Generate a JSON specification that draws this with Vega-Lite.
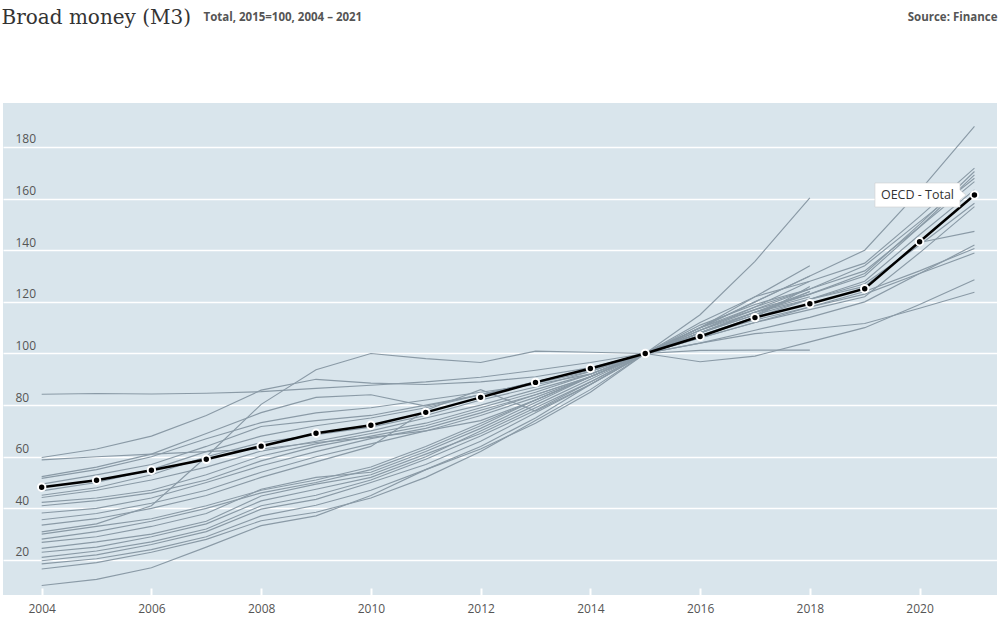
{
"$schema": "https://vega.github.io/schema/vega-lite/v6.json",
"width": 994, "height": 492,
"autosize": {"type": "none"},
"padding": {"left": 3, "top": 103, "right": 9, "bottom": 28},
"background": "white",
"config": {"view": {"fill": "#d9e5ec", "stroke": null}, "font": "Open Sans"},
"datasets": {
"countries": [
{"country":"C01","year":2004,"value":84.2},{"country":"C01","year":2005,"value":84.5},{"country":"C01","year":2006,"value":84.3},{"country":"C01","year":2007,"value":84.6},{"country":"C01","year":2008,"value":85.2},{"country":"C01","year":2009,"value":86.5},{"country":"C01","year":2010,"value":87.7},{"country":"C01","year":2011,"value":89.0},{"country":"C01","year":2012,"value":90.8},{"country":"C01","year":2013,"value":93.5},{"country":"C01","year":2014,"value":96.5},{"country":"C01","year":2015,"value":100},{"country":"C01","year":2016,"value":104.0},{"country":"C01","year":2017,"value":107.7},{"country":"C01","year":2018,"value":109.5},{"country":"C01","year":2019,"value":111.6},{"country":"C01","year":2020,"value":117.5},{"country":"C01","year":2021,"value":123.7},
{"country":"C02","year":2004,"value":30.9},{"country":"C02","year":2005,"value":34.0},{"country":"C02","year":2006,"value":41.0},{"country":"C02","year":2007,"value":60.0},{"country":"C02","year":2008,"value":80.3},{"country":"C02","year":2009,"value":93.7},{"country":"C02","year":2010,"value":100.0},{"country":"C02","year":2011,"value":98.0},{"country":"C02","year":2012,"value":96.5},{"country":"C02","year":2013,"value":100.9},{"country":"C02","year":2014,"value":100.5},{"country":"C02","year":2015,"value":100},{"country":"C02","year":2016,"value":96.8},{"country":"C02","year":2017,"value":99.0},{"country":"C02","year":2018,"value":104.5},{"country":"C02","year":2019,"value":110.0},{"country":"C02","year":2020,"value":119.0},{"country":"C02","year":2021,"value":128.6},
{"country":"C03","year":2004,"value":59.7},{"country":"C03","year":2005,"value":63.0},{"country":"C03","year":2006,"value":68.0},{"country":"C03","year":2007,"value":76.0},{"country":"C03","year":2008,"value":85.8},{"country":"C03","year":2009,"value":90.0},{"country":"C03","year":2010,"value":88.5},{"country":"C03","year":2011,"value":88.0},{"country":"C03","year":2012,"value":89.0},{"country":"C03","year":2013,"value":91.0},{"country":"C03","year":2014,"value":94.5},{"country":"C03","year":2015,"value":100},{"country":"C03","year":2016,"value":104.0},{"country":"C03","year":2017,"value":109.0},{"country":"C03","year":2018,"value":114.0},{"country":"C03","year":2019,"value":120.0},{"country":"C03","year":2020,"value":131.0},{"country":"C03","year":2021,"value":142.0},
{"country":"C04","year":2004,"value":58.8},{"country":"C04","year":2005,"value":60.0},{"country":"C04","year":2006,"value":61.0},{"country":"C04","year":2007,"value":62.0},{"country":"C04","year":2008,"value":63.0},{"country":"C04","year":2009,"value":65.5},{"country":"C04","year":2010,"value":67.5},{"country":"C04","year":2011,"value":70.0},{"country":"C04","year":2012,"value":74.0},{"country":"C04","year":2013,"value":82.0},{"country":"C04","year":2014,"value":91.0},{"country":"C04","year":2015,"value":100},{"country":"C04","year":2016,"value":101.2},{"country":"C04","year":2017,"value":101.3},{"country":"C04","year":2018,"value":101.3},
{"country":"C05","year":2004,"value":52.3},{"country":"C05","year":2005,"value":56.0},{"country":"C05","year":2006,"value":61.0},{"country":"C05","year":2007,"value":69.0},{"country":"C05","year":2008,"value":77.1},{"country":"C05","year":2009,"value":83.0},{"country":"C05","year":2010,"value":84.0},{"country":"C05","year":2011,"value":79.6},{"country":"C05","year":2012,"value":84.0},{"country":"C05","year":2013,"value":88.5},{"country":"C05","year":2014,"value":93.0},{"country":"C05","year":2015,"value":100},{"country":"C05","year":2016,"value":108.0},{"country":"C05","year":2017,"value":116.0},{"country":"C05","year":2018,"value":124.0},
{"country":"C06","year":2004,"value":51.6},{"country":"C06","year":2005,"value":55.0},{"country":"C06","year":2006,"value":60.0},{"country":"C06","year":2007,"value":67.0},{"country":"C06","year":2008,"value":73.2},{"country":"C06","year":2009,"value":77.0},{"country":"C06","year":2010,"value":79.0},{"country":"C06","year":2011,"value":82.0},{"country":"C06","year":2012,"value":85.0},{"country":"C06","year":2013,"value":88.0},{"country":"C06","year":2014,"value":92.0},{"country":"C06","year":2015,"value":100},{"country":"C06","year":2016,"value":110.0},{"country":"C06","year":2017,"value":118.0},{"country":"C06","year":2018,"value":125.0},{"country":"C06","year":2019,"value":134.0},{"country":"C06","year":2020,"value":151.0},{"country":"C06","year":2021,"value":167.9},
{"country":"C07","year":2004,"value":49.4},{"country":"C07","year":2005,"value":53.0},{"country":"C07","year":2006,"value":57.0},{"country":"C07","year":2007,"value":64.0},{"country":"C07","year":2008,"value":71.7},{"country":"C07","year":2009,"value":74.0},{"country":"C07","year":2010,"value":76.0},{"country":"C07","year":2011,"value":80.0},{"country":"C07","year":2012,"value":84.0},{"country":"C07","year":2013,"value":89.0},{"country":"C07","year":2014,"value":93.5},{"country":"C07","year":2015,"value":100},{"country":"C07","year":2016,"value":110.0},{"country":"C07","year":2017,"value":122.0},{"country":"C07","year":2018,"value":134.0},
{"country":"C08","year":2004,"value":46.8},{"country":"C08","year":2005,"value":50.0},{"country":"C08","year":2006,"value":55.0},{"country":"C08","year":2007,"value":62.0},{"country":"C08","year":2008,"value":68.0},{"country":"C08","year":2009,"value":72.0},{"country":"C08","year":2010,"value":75.0},{"country":"C08","year":2011,"value":79.0},{"country":"C08","year":2012,"value":84.0},{"country":"C08","year":2013,"value":89.0},{"country":"C08","year":2014,"value":94.0},{"country":"C08","year":2015,"value":100},{"country":"C08","year":2016,"value":107.0},{"country":"C08","year":2017,"value":114.0},{"country":"C08","year":2018,"value":121.0},{"country":"C08","year":2019,"value":128.0},{"country":"C08","year":2020,"value":146.0},{"country":"C08","year":2021,"value":163.4},
{"country":"C09","year":2004,"value":45.1},{"country":"C09","year":2005,"value":48.0},{"country":"C09","year":2006,"value":53.0},{"country":"C09","year":2007,"value":60.0},{"country":"C09","year":2008,"value":65.5},{"country":"C09","year":2009,"value":68.5},{"country":"C09","year":2010,"value":71.5},{"country":"C09","year":2011,"value":76.0},{"country":"C09","year":2012,"value":82.0},{"country":"C09","year":2013,"value":87.0},{"country":"C09","year":2014,"value":93.0},{"country":"C09","year":2015,"value":100},{"country":"C09","year":2016,"value":108.0},{"country":"C09","year":2017,"value":116.0},{"country":"C09","year":2018,"value":123.0},{"country":"C09","year":2019,"value":130.0},{"country":"C09","year":2020,"value":149.0},{"country":"C09","year":2021,"value":169.2},
{"country":"C10","year":2004,"value":44.2},{"country":"C10","year":2005,"value":47.0},{"country":"C10","year":2006,"value":51.0},{"country":"C10","year":2007,"value":56.0},{"country":"C10","year":2008,"value":62.2},{"country":"C10","year":2009,"value":66.0},{"country":"C10","year":2010,"value":70.0},{"country":"C10","year":2011,"value":75.0},{"country":"C10","year":2012,"value":80.0},{"country":"C10","year":2013,"value":86.0},{"country":"C10","year":2014,"value":92.0},{"country":"C10","year":2015,"value":100},{"country":"C10","year":2016,"value":109.0},{"country":"C10","year":2017,"value":117.0},{"country":"C10","year":2018,"value":125.0},
{"country":"C11","year":2004,"value":42.3},{"country":"C11","year":2005,"value":44.0},{"country":"C11","year":2006,"value":47.0},{"country":"C11","year":2007,"value":53.0},{"country":"C11","year":2008,"value":60.3},{"country":"C11","year":2009,"value":65.0},{"country":"C11","year":2010,"value":69.0},{"country":"C11","year":2011,"value":73.0},{"country":"C11","year":2012,"value":79.0},{"country":"C11","year":2013,"value":85.0},{"country":"C11","year":2014,"value":92.0},{"country":"C11","year":2015,"value":100},{"country":"C11","year":2016,"value":115.0},{"country":"C11","year":2017,"value":135.7},{"country":"C11","year":2018,"value":160.3},
{"country":"C12","year":2004,"value":41.0},{"country":"C12","year":2005,"value":43.0},{"country":"C12","year":2006,"value":46.0},{"country":"C12","year":2007,"value":51.0},{"country":"C12","year":2008,"value":58.4},{"country":"C12","year":2009,"value":64.0},{"country":"C12","year":2010,"value":68.0},{"country":"C12","year":2011,"value":72.0},{"country":"C12","year":2012,"value":78.0},{"country":"C12","year":2013,"value":84.0},{"country":"C12","year":2014,"value":91.0},{"country":"C12","year":2015,"value":100},{"country":"C12","year":2016,"value":108.0},{"country":"C12","year":2017,"value":115.0},{"country":"C12","year":2018,"value":121.0},{"country":"C12","year":2019,"value":127.0},{"country":"C12","year":2020,"value":142.0},{"country":"C12","year":2021,"value":158.2},
{"country":"C13","year":2004,"value":38.2},{"country":"C13","year":2005,"value":40.0},{"country":"C13","year":2006,"value":44.0},{"country":"C13","year":2007,"value":50.0},{"country":"C13","year":2008,"value":56.5},{"country":"C13","year":2009,"value":62.0},{"country":"C13","year":2010,"value":67.0},{"country":"C13","year":2011,"value":71.0},{"country":"C13","year":2012,"value":77.0},{"country":"C13","year":2013,"value":84.0},{"country":"C13","year":2014,"value":91.0},{"country":"C13","year":2015,"value":100},{"country":"C13","year":2016,"value":110.0},{"country":"C13","year":2017,"value":120.0},{"country":"C13","year":2018,"value":130.0},{"country":"C13","year":2019,"value":140.0},{"country":"C13","year":2020,"value":163.0},{"country":"C13","year":2021,"value":188.0},
{"country":"C14","year":2004,"value":35.6},{"country":"C14","year":2005,"value":38.0},{"country":"C14","year":2006,"value":42.0},{"country":"C14","year":2007,"value":47.0},{"country":"C14","year":2008,"value":54.0},{"country":"C14","year":2009,"value":60.0},{"country":"C14","year":2010,"value":65.0},{"country":"C14","year":2011,"value":70.0},{"country":"C14","year":2012,"value":76.0},{"country":"C14","year":2013,"value":83.0},{"country":"C14","year":2014,"value":91.0},{"country":"C14","year":2015,"value":100},{"country":"C14","year":2016,"value":107.0},{"country":"C14","year":2017,"value":114.0},{"country":"C14","year":2018,"value":126.0},
{"country":"C15","year":2004,"value":33.5},{"country":"C15","year":2005,"value":36.0},{"country":"C15","year":2006,"value":40.0},{"country":"C15","year":2007,"value":45.0},{"country":"C15","year":2008,"value":52.0},{"country":"C15","year":2009,"value":58.0},{"country":"C15","year":2010,"value":64.0},{"country":"C15","year":2011,"value":78.0},{"country":"C15","year":2012,"value":86.0},{"country":"C15","year":2013,"value":77.7},{"country":"C15","year":2014,"value":88.0},{"country":"C15","year":2015,"value":100},{"country":"C15","year":2016,"value":106.0},{"country":"C15","year":2017,"value":112.0},{"country":"C15","year":2018,"value":118.0},{"country":"C15","year":2019,"value":124.0},{"country":"C15","year":2020,"value":132.0},{"country":"C15","year":2021,"value":140.7},
{"country":"C16","year":2004,"value":10.1},{"country":"C16","year":2005,"value":12.5},{"country":"C16","year":2006,"value":17.0},{"country":"C16","year":2007,"value":25.0},{"country":"C16","year":2008,"value":33.3},{"country":"C16","year":2009,"value":37.1},{"country":"C16","year":2010,"value":45.0},{"country":"C16","year":2011,"value":55.0},{"country":"C16","year":2012,"value":63.0},{"country":"C16","year":2013,"value":73.0},{"country":"C16","year":2014,"value":85.0},{"country":"C16","year":2015,"value":100},{"country":"C16","year":2016,"value":112.0},{"country":"C16","year":2017,"value":122.0},{"country":"C16","year":2018,"value":128.0},{"country":"C16","year":2019,"value":135.0},{"country":"C16","year":2020,"value":153.0},{"country":"C16","year":2021,"value":171.8},
{"country":"C17","year":2004,"value":16.5},{"country":"C17","year":2005,"value":19.0},{"country":"C17","year":2006,"value":23.0},{"country":"C17","year":2007,"value":28.0},{"country":"C17","year":2008,"value":35.2},{"country":"C17","year":2009,"value":38.5},{"country":"C17","year":2010,"value":44.0},{"country":"C17","year":2011,"value":52.0},{"country":"C17","year":2012,"value":62.0},{"country":"C17","year":2013,"value":74.0},{"country":"C17","year":2014,"value":86.0},{"country":"C17","year":2015,"value":100},{"country":"C17","year":2016,"value":111.0},{"country":"C17","year":2017,"value":119.0},{"country":"C17","year":2018,"value":125.0},{"country":"C17","year":2019,"value":132.0},{"country":"C17","year":2020,"value":149.0},{"country":"C17","year":2021,"value":166.6},
{"country":"C18","year":2004,"value":18.5},{"country":"C18","year":2005,"value":20.5},{"country":"C18","year":2006,"value":24.0},{"country":"C18","year":2007,"value":29.0},{"country":"C18","year":2008,"value":37.1},{"country":"C18","year":2009,"value":41.2},{"country":"C18","year":2010,"value":47.0},{"country":"C18","year":2011,"value":55.0},{"country":"C18","year":2012,"value":64.0},{"country":"C18","year":2013,"value":75.0},{"country":"C18","year":2014,"value":88.0},{"country":"C18","year":2015,"value":100},{"country":"C18","year":2016,"value":108.0},{"country":"C18","year":2017,"value":116.0},{"country":"C18","year":2018,"value":121.0},{"country":"C18","year":2019,"value":126.0},{"country":"C18","year":2020,"value":143.0},{"country":"C18","year":2021,"value":147.3},
{"country":"C19","year":2004,"value":19.7},{"country":"C19","year":2005,"value":22.0},{"country":"C19","year":2006,"value":26.0},{"country":"C19","year":2007,"value":31.0},{"country":"C19","year":2008,"value":39.7},{"country":"C19","year":2009,"value":43.5},{"country":"C19","year":2010,"value":50.0},{"country":"C19","year":2011,"value":57.0},{"country":"C19","year":2012,"value":66.0},{"country":"C19","year":2013,"value":77.0},{"country":"C19","year":2014,"value":88.0},{"country":"C19","year":2015,"value":100},{"country":"C19","year":2016,"value":110.0},{"country":"C19","year":2017,"value":117.0},{"country":"C19","year":2018,"value":123.0},{"country":"C19","year":2019,"value":131.0},{"country":"C19","year":2020,"value":150.0},{"country":"C19","year":2021,"value":170.5},
{"country":"C20","year":2004,"value":21.0},{"country":"C20","year":2005,"value":23.5},{"country":"C20","year":2006,"value":27.0},{"country":"C20","year":2007,"value":32.0},{"country":"C20","year":2008,"value":41.0},{"country":"C20","year":2009,"value":45.1},{"country":"C20","year":2010,"value":51.0},{"country":"C20","year":2011,"value":59.0},{"country":"C20","year":2012,"value":68.0},{"country":"C20","year":2013,"value":78.0},{"country":"C20","year":2014,"value":89.0},{"country":"C20","year":2015,"value":100},{"country":"C20","year":2016,"value":107.0},{"country":"C20","year":2017,"value":113.0},{"country":"C20","year":2018,"value":118.0},{"country":"C20","year":2019,"value":123.0},{"country":"C20","year":2020,"value":131.0},{"country":"C20","year":2021,"value":138.9},
{"country":"C21","year":2004,"value":23.0},{"country":"C21","year":2005,"value":25.0},{"country":"C21","year":2006,"value":29.0},{"country":"C21","year":2007,"value":34.0},{"country":"C21","year":2008,"value":42.9},{"country":"C21","year":2009,"value":47.4},{"country":"C21","year":2010,"value":52.0},{"country":"C21","year":2011,"value":60.0},{"country":"C21","year":2012,"value":70.0},{"country":"C21","year":2013,"value":80.0},{"country":"C21","year":2014,"value":90.0},{"country":"C21","year":2015,"value":100},{"country":"C21","year":2016,"value":106.0},{"country":"C21","year":2017,"value":112.0},{"country":"C21","year":2018,"value":117.0},{"country":"C21","year":2019,"value":122.0},{"country":"C21","year":2020,"value":139.0},{"country":"C21","year":2021,"value":156.9},
{"country":"C22","year":2004,"value":24.5},{"country":"C22","year":2005,"value":27.0},{"country":"C22","year":2006,"value":30.0},{"country":"C22","year":2007,"value":35.0},{"country":"C22","year":2008,"value":44.8},{"country":"C22","year":2009,"value":49.4},{"country":"C22","year":2010,"value":53.0},{"country":"C22","year":2011,"value":61.0},{"country":"C22","year":2012,"value":69.0},{"country":"C22","year":2013,"value":79.0},{"country":"C22","year":2014,"value":89.0},{"country":"C22","year":2015,"value":100},{"country":"C22","year":2016,"value":109.0},{"country":"C22","year":2017,"value":116.0},{"country":"C22","year":2018,"value":122.0},
{"country":"C23","year":2004,"value":26.8},{"country":"C23","year":2005,"value":29.0},{"country":"C23","year":2006,"value":33.0},{"country":"C23","year":2007,"value":38.0},{"country":"C23","year":2008,"value":47.4},{"country":"C23","year":2009,"value":52.0},{"country":"C23","year":2010,"value":54.0},{"country":"C23","year":2011,"value":62.0},{"country":"C23","year":2012,"value":71.0},{"country":"C23","year":2013,"value":81.0},{"country":"C23","year":2014,"value":91.0},{"country":"C23","year":2015,"value":100},{"country":"C23","year":2016,"value":108.0},{"country":"C23","year":2017,"value":115.0},{"country":"C23","year":2018,"value":124.0},
{"country":"C24","year":2004,"value":28.1},{"country":"C24","year":2005,"value":31.0},{"country":"C24","year":2006,"value":35.0},{"country":"C24","year":2007,"value":40.0},{"country":"C24","year":2008,"value":46.0},{"country":"C24","year":2009,"value":50.0},{"country":"C24","year":2010,"value":55.0},{"country":"C24","year":2011,"value":63.0},{"country":"C24","year":2012,"value":72.0},{"country":"C24","year":2013,"value":82.0},{"country":"C24","year":2014,"value":91.0},{"country":"C24","year":2015,"value":100},{"country":"C24","year":2016,"value":110.0},{"country":"C24","year":2017,"value":120.0},{"country":"C24","year":2018,"value":130.0},
{"country":"C25","year":2004,"value":30.0},{"country":"C25","year":2005,"value":33.0},{"country":"C25","year":2006,"value":36.0},{"country":"C25","year":2007,"value":41.0},{"country":"C25","year":2008,"value":47.0},{"country":"C25","year":2009,"value":51.0},{"country":"C25","year":2010,"value":56.0},{"country":"C25","year":2011,"value":64.0},{"country":"C25","year":2012,"value":73.0},{"country":"C25","year":2013,"value":82.0},{"country":"C25","year":2014,"value":91.0},{"country":"C25","year":2015,"value":100},{"country":"C25","year":2016,"value":109.0},{"country":"C25","year":2017,"value":118.0},{"country":"C25","year":2018,"value":128.0}
],
"oecd": [
{"series":"OECD - Total","year":2004,"value":48.2},{"series":"OECD - Total","year":2005,"value":50.9},{"series":"OECD - Total","year":2006,"value":54.8},{"series":"OECD - Total","year":2007,"value":59.0},{"series":"OECD - Total","year":2008,"value":64.1},{"series":"OECD - Total","year":2009,"value":69.1},{"series":"OECD - Total","year":2010,"value":72.2},{"series":"OECD - Total","year":2011,"value":77.2},{"series":"OECD - Total","year":2012,"value":83.0},{"series":"OECD - Total","year":2013,"value":88.8},{"series":"OECD - Total","year":2014,"value":94.2},{"series":"OECD - Total","year":2015,"value":100},{"series":"OECD - Total","year":2016,"value":106.6},{"series":"OECD - Total","year":2017,"value":113.9},{"series":"OECD - Total","year":2018,"value":119.3},{"series":"OECD - Total","year":2019,"value":125.1},{"series":"OECD - Total","year":2020,"value":143.3},{"series":"OECD - Total","year":2021,"value":161.4}
]
},
"layer": [
{
"data": {"name": "countries"},
"mark": {"type": "line", "color": "#8a9aa6", "strokeWidth": 1.15},
"encoding": {
"x": {"field": "year", "type": "quantitative", "scale": {"domain": [2003.295, 2021.411], "nice": false, "zero": false},
"axis": {"orient": "bottom", "values": [2004, 2006, 2008, 2010, 2012, 2014, 2016, 2018, 2020], "format": "d", "title": null, "grid": false, "domain": false, "ticks": true, "tickSize": -7, "tickWidth": 2, "tickColor": "white", "labelPadding": 15, "labelFont": "Open Sans", "labelFontSize": 12, "labelColor": "#555555", "labelFlush": false}},
"y": {"field": "value", "type": "quantitative", "scale": {"domain": [6.44, 197.04], "nice": false, "zero": false},
"axis": {"orient": "left", "values": [20, 40, 60, 80, 100, 120, 140, 160, 180], "grid": true, "gridColor": "white", "gridWidth": 1.5, "domain": false, "ticks": false, "labelAlign": "left", "labelBaseline": "alphabetic", "labelOffset": -4, "labelPadding": -12, "labelFont": "Open Sans", "labelFontSize": 12, "labelColor": "#555555", "labelFlush": false,
"title": "Total, 2015=100, 2004 – 2021", "titleAngle": 0, "titleX": 200, "titleY": -83, "titleAlign": "left", "titleBaseline": "alphabetic", "titleFont": "Open Sans", "titleFontSize": 11.5, "titleFontWeight": "bold", "titleColor": "#555555"}},
"detail": {"field": "country", "type": "nominal"}
}
},
{
"data": {"name": "oecd"},
"mark": {"type": "line", "color": "#000000", "strokeWidth": 2.5},
"encoding": {
"x": {"field": "year", "type": "quantitative", "scale": {"domain": [2003.295, 2021.411], "nice": false, "zero": false},
"axis": {"orient": "top", "labels": false, "ticks": false, "domain": false, "grid": false, "title": "Broad money (M3)", "titleX": -2, "titleY": -80, "titleAlign": "left", "titleBaseline": "alphabetic", "titleFont": "DejaVu Serif", "titleFontSize": 20, "titleFontWeight": "normal", "titleColor": "#333333"}},
"y": {"field": "value", "type": "quantitative", "scale": {"domain": [6.44, 197.04], "nice": false, "zero": false},
"axis": {"orient": "right", "labels": false, "ticks": false, "domain": false, "grid": false, "title": "Source: Finance", "titleAngle": 0, "titleX": 0, "titleY": -83, "titleAlign": "right", "titleBaseline": "alphabetic", "titleFont": "Open Sans", "titleFontSize": 11.5, "titleFontWeight": "bold", "titleColor": "#555555"}}
}
},
{
"data": {"name": "oecd"},
"mark": {"type": "point", "filled": true, "color": "#000000", "stroke": "#ffffff", "strokeWidth": 2, "size": 55, "opacity": 1},
"encoding": {
"x": {"field": "year", "type": "quantitative", "axis": null},
"y": {"field": "value", "type": "quantitative", "axis": null}
}
},
{
"data": {"name": "oecd"},
"transform": [{"filter": "datum.year == 2021"}],
"mark": {"type": "point", "shape": "M -1.99 -0.24 L -0.29 -0.24 L -0.29 -0.1 L -0.17 0 L -0.29 0.1 L -0.29 0.24 L -1.99 0.24 Z", "size": 10000, "filled": true, "color": "#ffffff", "stroke": "#cfcfcf", "strokeWidth": 0.6, "opacity": 1},
"encoding": {
"x": {"field": "year", "type": "quantitative", "axis": null},
"y": {"field": "value", "type": "quantitative", "axis": null}
}
},
{
"data": {"name": "oecd"},
"transform": [{"filter": "datum.year == 2021"}],
"mark": {"type": "text", "dx": -57, "dy": 0, "align": "center", "baseline": "middle", "font": "Open Sans", "fontSize": 12.5, "color": "#333333"},
"encoding": {
"x": {"field": "year", "type": "quantitative", "axis": null},
"y": {"field": "value", "type": "quantitative", "axis": null},
"text": {"field": "series", "type": "nominal"}
}
}
],
"resolve": {"axis": {"x": "independent", "y": "independent"}}
}
